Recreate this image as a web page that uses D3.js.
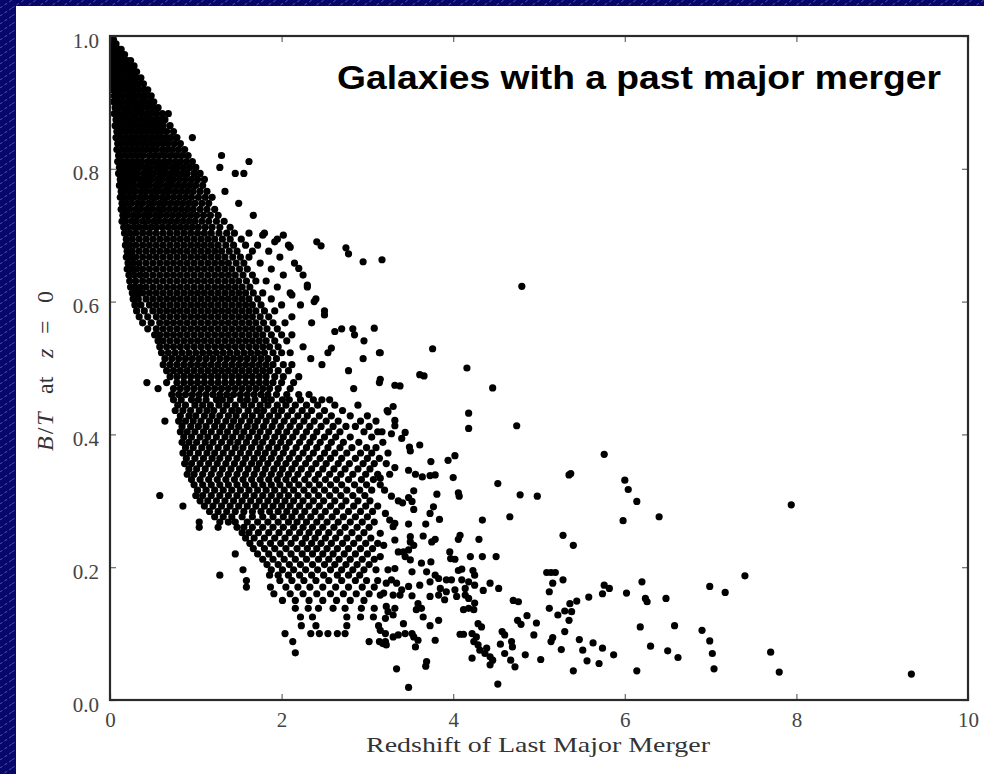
<!DOCTYPE html>
<html>
<head>
<meta charset="utf-8">
<script src="https://cdn.jsdelivr.net/npm/d3@7"></script>
<style>
    html, body { margin: 0; padding: 0; background: #08086a; }
    svg { display: block; }
</style>
</head>
<body>
<div id="chart"></div>
<script>
const xTicks = [0, 2, 4, 6, 8, 10];
const yTicks = [0.0, 0.2, 0.4, 0.6, 0.8, 1.0];
const titleText = "Galaxies with a past major merger";
const xLabel = "Redshift of Last Major Merger";

// dense upper-left core, read row by row: [B/T, [redshifts of last merger]]
const coreRows = [
    [0.995, [0.01, 0.04]],
    [0.988, [0.00, 0.03, 0.07]],
    [0.980, [0.01, 0.05, 0.10, 0.13]],
    [0.972, [0.00, 0.04, 0.08, 0.12, 0.17]],
    [0.963, [0.02, 0.06, 0.10, 0.15, 0.20, 0.24]],
    [0.955, [0.01, 0.05, 0.09, 0.14, 0.19, 0.23, 0.28]],
    [0.946, [0.03, 0.07, 0.12, 0.17, 0.22, 0.26, 0.31]],
    [0.937, [0.02, 0.06, 0.11, 0.16, 0.21, 0.25, 0.30, 0.36]],
    [0.928, [0.04, 0.09, 0.14, 0.19, 0.24, 0.29, 0.33, 0.39]],
    [0.919, [0.03, 0.07, 0.12, 0.18, 0.23, 0.28, 0.34, 0.40, 0.44]],
    [0.910, [0.05, 0.10, 0.15, 0.21, 0.26, 0.31, 0.37, 0.42, 0.48]],
    [0.901, [0.04, 0.08, 0.13, 0.19, 0.24, 0.29, 0.35, 0.40, 0.46, 0.51]],
    [0.892, [0.06, 0.11, 0.17, 0.22, 0.28, 0.33, 0.38, 0.44, 0.50, 0.56]],
    [0.883, [0.05, 0.09, 0.15, 0.20, 0.26, 0.31, 0.37, 0.43, 0.48, 0.54, 0.61, 0.68]],
    [0.874, [0.07, 0.12, 0.18, 0.24, 0.29, 0.35, 0.41, 0.47, 0.53, 0.58, 0.64]],
    [0.865, [0.06, 0.10, 0.16, 0.22, 0.27, 0.33, 0.39, 0.45, 0.51, 0.57, 0.62, 0.70]],
    [0.856, [0.08, 0.13, 0.19, 0.25, 0.31, 0.37, 0.43, 0.49, 0.55, 0.60, 0.66, 0.74]],
    [0.847, [0.07, 0.11, 0.17, 0.23, 0.29, 0.35, 0.41, 0.47, 0.53, 0.59, 0.65, 0.71, 0.78, 0.96]],
    [0.838, [0.09, 0.14, 0.20, 0.26, 0.32, 0.38, 0.44, 0.50, 0.56, 0.62, 0.68, 0.75, 0.82]],
    [0.829, [0.08, 0.12, 0.18, 0.24, 0.30, 0.36, 0.42, 0.48, 0.54, 0.61, 0.67, 0.73, 0.80, 0.87]],
    [0.820, [0.10, 0.15, 0.21, 0.27, 0.33, 0.39, 0.46, 0.52, 0.58, 0.64, 0.71, 0.77, 0.84, 0.91, 1.30]],
    [0.811, [0.09, 0.13, 0.19, 0.25, 0.31, 0.37, 0.44, 0.50, 0.56, 0.63, 0.69, 0.76, 0.82, 0.89, 0.96, 1.62]],
    [0.802, [0.11, 0.16, 0.22, 0.28, 0.34, 0.41, 0.47, 0.54, 0.60, 0.66, 0.73, 0.79, 0.86, 0.93, 1.00, 1.28]],
    [0.793, [0.10, 0.14, 0.20, 0.26, 0.32, 0.39, 0.45, 0.51, 0.58, 0.64, 0.71, 0.77, 0.84, 0.90, 0.98, 1.05, 1.46, 1.56]],
    [0.784, [0.12, 0.17, 0.23, 0.29, 0.36, 0.42, 0.48, 0.55, 0.61, 0.68, 0.74, 0.81, 0.88, 0.95, 1.02, 1.10]],
    [0.775, [0.11, 0.15, 0.21, 0.27, 0.34, 0.40, 0.46, 0.53, 0.59, 0.66, 0.72, 0.79, 0.86, 0.93, 1.00, 1.08]],
    [0.766, [0.13, 0.18, 0.24, 0.30, 0.37, 0.43, 0.50, 0.56, 0.63, 0.69, 0.76, 0.83, 0.90, 0.97, 1.05, 1.13, 1.34]],
    [0.757, [0.12, 0.16, 0.22, 0.28, 0.35, 0.41, 0.48, 0.54, 0.61, 0.67, 0.74, 0.81, 0.88, 0.95, 1.03, 1.11, 1.19]],
    [0.748, [0.14, 0.19, 0.25, 0.32, 0.38, 0.45, 0.51, 0.58, 0.64, 0.71, 0.78, 0.85, 0.92, 0.99, 1.07, 1.15, 1.50]],
    [0.739, [0.13, 0.17, 0.23, 0.30, 0.36, 0.43, 0.49, 0.56, 0.62, 0.69, 0.76, 0.83, 0.90, 0.97, 1.05, 1.13, 1.22]],
    [0.730, [0.15, 0.20, 0.27, 0.33, 0.40, 0.46, 0.53, 0.59, 0.66, 0.73, 0.80, 0.87, 0.94, 1.01, 1.09, 1.17, 1.26, 1.67]],
    [0.721, [0.14, 0.18, 0.25, 0.31, 0.38, 0.44, 0.51, 0.57, 0.64, 0.71, 0.78, 0.85, 0.92, 0.99, 1.07, 1.15, 1.24, 1.33]],
    [0.712, [0.16, 0.21, 0.28, 0.34, 0.41, 0.48, 0.54, 0.61, 0.68, 0.75, 0.82, 0.89, 0.96, 1.03, 1.11, 1.19, 1.28, 1.40]],
    [0.703, [0.17, 0.23, 0.30, 0.38, 0.46, 0.54, 0.62, 0.70, 0.78, 0.86, 0.94, 1.02, 1.10, 1.18, 1.27, 1.36, 1.45, 1.62, 1.80]],
    [0.694, [0.19, 0.26, 0.34, 0.42, 0.50, 0.58, 0.66, 0.74, 0.82, 0.90, 0.98, 1.06, 1.14, 1.22, 1.31, 1.40, 1.53, 1.95]],
    [0.685, [0.18, 0.23, 0.30, 0.38, 0.46, 0.54, 0.62, 0.70, 0.78, 0.86, 0.94, 1.02, 1.10, 1.18, 1.26, 1.35, 1.44, 1.58, 1.72, 2.08]],
    [0.676, [0.20, 0.26, 0.34, 0.42, 0.50, 0.58, 0.66, 0.74, 0.82, 0.90, 0.98, 1.06, 1.14, 1.22, 1.30, 1.39, 1.48, 1.66, 1.85]],
    [0.667, [0.19, 0.24, 0.30, 0.38, 0.46, 0.54, 0.62, 0.70, 0.78, 0.86, 0.94, 1.02, 1.10, 1.18, 1.26, 1.34, 1.43, 1.52, 1.62, 1.98]],
    [0.658, [0.21, 0.27, 0.34, 0.42, 0.50, 0.58, 0.66, 0.74, 0.82, 0.90, 0.98, 1.06, 1.14, 1.22, 1.30, 1.38, 1.47, 1.56, 1.75, 2.15]],
    [0.649, [0.20, 0.25, 0.31, 0.38, 0.46, 0.54, 0.62, 0.70, 0.78, 0.86, 0.94, 1.02, 1.10, 1.18, 1.26, 1.34, 1.42, 1.51, 1.60, 1.88]],
    [0.640, [0.22, 0.28, 0.35, 0.42, 0.50, 0.58, 0.66, 0.74, 0.82, 0.90, 0.98, 1.06, 1.14, 1.22, 1.30, 1.38, 1.46, 1.55, 1.66, 2.02, 2.25]],
    [0.631, [0.23, 0.30, 0.38, 0.46, 0.54, 0.62, 0.70, 0.78, 0.86, 0.94, 1.02, 1.10, 1.18, 1.26, 1.34, 1.42, 1.50, 1.59, 1.70, 1.82]],
    [0.622, [0.24, 0.29, 0.35, 0.42, 0.50, 0.58, 0.66, 0.74, 0.82, 0.90, 0.98, 1.06, 1.14, 1.22, 1.30, 1.38, 1.46, 1.54, 1.63, 1.95, 2.30]],
    [0.613, [0.26, 0.32, 0.38, 0.46, 0.54, 0.62, 0.70, 0.78, 0.86, 0.94, 1.02, 1.10, 1.18, 1.26, 1.34, 1.42, 1.50, 1.58, 1.67, 1.78, 2.10]],
    [0.604, [0.27, 0.33, 0.42, 0.50, 0.58, 0.66, 0.74, 0.82, 0.90, 0.98, 1.06, 1.14, 1.22, 1.30, 1.38, 1.46, 1.54, 1.62, 1.72, 1.88, 2.40]],
    [0.595, [0.29, 0.36, 0.46, 0.54, 0.62, 0.70, 0.78, 0.86, 0.94, 1.02, 1.10, 1.18, 1.26, 1.34, 1.42, 1.50, 1.58, 1.66, 1.76, 2.00, 2.22]],
    [0.586, [0.31, 0.40, 0.50, 0.58, 0.66, 0.74, 0.82, 0.90, 0.98, 1.06, 1.14, 1.22, 1.30, 1.38, 1.46, 1.54, 1.62, 1.70, 1.80, 1.92, 2.50]],
    [0.577, [0.34, 0.44, 0.54, 0.62, 0.70, 0.78, 0.86, 0.94, 1.02, 1.10, 1.18, 1.26, 1.34, 1.42, 1.50, 1.58, 1.66, 1.75, 1.85, 2.12]],
    [0.568, [0.38, 0.48, 0.58, 0.66, 0.74, 0.82, 0.90, 0.98, 1.06, 1.14, 1.22, 1.30, 1.38, 1.46, 1.54, 1.62, 1.70, 1.79, 1.90, 2.04, 2.35]],
    [0.559, [0.44, 0.54, 0.62, 0.70, 0.78, 0.86, 0.94, 1.02, 1.10, 1.18, 1.26, 1.34, 1.42, 1.50, 1.58, 1.66, 1.74, 1.83, 1.95, 2.70, 2.83]],
    [0.550, [0.52, 0.58, 0.66, 0.74, 0.82, 0.90, 0.98, 1.06, 1.14, 1.22, 1.30, 1.38, 1.46, 1.54, 1.62, 1.70, 1.78, 1.88, 2.00, 2.12]],
    [0.541, [0.56, 0.62, 0.70, 0.78, 0.86, 0.94, 1.02, 1.10, 1.18, 1.26, 1.34, 1.42, 1.50, 1.58, 1.66, 1.74, 1.82, 1.92, 2.06, 2.96]],
    [0.532, [0.58, 0.66, 0.74, 0.82, 0.90, 0.98, 1.06, 1.14, 1.22, 1.30, 1.38, 1.46, 1.54, 1.62, 1.70, 1.78, 1.86, 1.96, 2.25]],
    [0.523, [0.60, 0.68, 0.76, 0.84, 0.92, 1.00, 1.08, 1.16, 1.24, 1.32, 1.40, 1.48, 1.56, 1.64, 1.72, 1.80, 1.90, 2.00, 2.10, 2.54, 3.14]],
    [0.514, [0.64, 0.72, 0.80, 0.88, 0.96, 1.04, 1.12, 1.20, 1.28, 1.36, 1.44, 1.52, 1.60, 1.68, 1.76, 1.84, 1.94, 2.34, 2.95]],
    [0.505, [0.62, 0.70, 0.78, 0.86, 0.94, 1.02, 1.10, 1.18, 1.26, 1.34, 1.42, 1.50, 1.58, 1.66, 1.74, 1.82, 1.90, 2.02, 2.12, 2.47]],
    [0.496, [0.66, 0.74, 0.82, 0.90, 0.98, 1.06, 1.14, 1.22, 1.30, 1.38, 1.46, 1.54, 1.62, 1.70, 1.78, 1.86, 1.96, 2.08, 2.78]],
    [0.487, [0.70, 0.78, 0.86, 0.94, 1.02, 1.10, 1.18, 1.26, 1.34, 1.42, 1.50, 1.58, 1.66, 1.74, 1.82, 1.92, 2.02, 2.20]],
    [0.478, [0.43, 0.66, 0.78, 0.86, 0.94, 1.02, 1.10, 1.18, 1.26, 1.34, 1.42, 1.50, 1.58, 1.66, 1.74, 1.82, 1.90, 2.00, 2.14, 3.14]],
    [0.469, [0.56, 0.74, 0.82, 0.90, 0.98, 1.06, 1.14, 1.22, 1.30, 1.38, 1.46, 1.54, 1.62, 1.70, 1.78, 1.86, 1.96, 2.10, 2.84]],
    [0.460, [0.72, 0.80, 0.88, 0.96, 1.04, 1.12, 1.20, 1.28, 1.36, 1.44, 1.52, 1.60, 1.68, 1.76, 1.84, 1.94, 2.06, 2.20, 2.32]]
];

// middle band, looser: [B/T, [redshifts]]
const midRows = [
    [0.452, [0.74, 0.83, 0.95, 1.03, 1.12, 1.24, 1.31, 1.40, 1.52, 1.60, 1.69, 1.80, 1.88, 2.01, 2.09, 2.22, 2.37, 2.47, 2.56]],
    [0.444, [0.79, 0.88, 0.99, 1.08, 1.17, 1.27, 1.36, 1.46, 1.56, 1.65, 1.75, 1.84, 1.95, 2.05, 2.16, 2.29, 2.42, 2.62, 2.89]],
    [0.436, [0.76, 0.85, 0.94, 1.04, 1.13, 1.21, 1.32, 1.42, 1.50, 1.61, 1.71, 1.79, 1.91, 2.00, 2.12, 2.24, 2.35, 2.50, 2.71, 3.23]],
    [0.428, [0.82, 0.92, 1.00, 1.10, 1.19, 1.28, 1.38, 1.47, 1.57, 1.66, 1.76, 1.86, 1.96, 2.07, 2.19, 2.30, 2.44, 2.58, 2.80, 3.00]],
    [0.420, [0.64, 0.80, 0.88, 0.97, 1.06, 1.16, 1.25, 1.35, 1.44, 1.53, 1.63, 1.72, 1.82, 1.92, 2.03, 2.14, 2.26, 2.38, 2.52, 2.66, 2.92, 3.10]],
    [0.412, [0.84, 0.94, 1.03, 1.12, 1.22, 1.31, 1.41, 1.50, 1.60, 1.69, 1.79, 1.89, 1.99, 2.10, 2.21, 2.33, 2.46, 2.60, 2.75, 2.86, 3.02]],
    [0.404, [0.82, 0.90, 0.99, 1.09, 1.18, 1.28, 1.37, 1.47, 1.56, 1.66, 1.75, 1.85, 1.96, 2.06, 2.17, 2.29, 2.41, 2.55, 2.68, 2.96, 3.12]],
    [0.396, [0.86, 0.95, 1.05, 1.14, 1.24, 1.34, 1.43, 1.53, 1.62, 1.72, 1.82, 1.92, 2.02, 2.13, 2.25, 2.37, 2.50, 2.63, 2.80, 3.05]],
    [0.388, [0.84, 0.92, 1.01, 1.11, 1.20, 1.30, 1.40, 1.49, 1.59, 1.69, 1.78, 1.89, 1.99, 2.09, 2.21, 2.33, 2.45, 2.58, 2.72, 2.90, 3.18]],
    [0.380, [0.88, 0.97, 1.07, 1.16, 1.26, 1.36, 1.46, 1.55, 1.65, 1.75, 1.85, 1.95, 2.05, 2.17, 2.29, 2.41, 2.54, 2.68, 2.82, 2.99, 3.10]],
    [0.372, [0.85, 0.93, 1.03, 1.13, 1.22, 1.32, 1.42, 1.52, 1.62, 1.72, 1.81, 1.91, 2.02, 2.13, 2.25, 2.37, 2.50, 2.62, 2.76, 2.92, 3.05, 3.24]],
    [0.364, [0.89, 0.99, 1.09, 1.19, 1.28, 1.38, 1.48, 1.58, 1.68, 1.78, 1.88, 1.98, 2.09, 2.20, 2.32, 2.45, 2.57, 2.70, 2.86, 3.00, 3.14]],
    [0.356, [0.87, 0.95, 1.05, 1.15, 1.25, 1.35, 1.45, 1.55, 1.65, 1.74, 1.84, 1.95, 2.05, 2.16, 2.28, 2.40, 2.52, 2.66, 2.79, 2.95, 3.08, 3.22]],
    [0.348, [0.92, 1.01, 1.11, 1.21, 1.31, 1.41, 1.51, 1.61, 1.71, 1.81, 1.91, 2.01, 2.12, 2.23, 2.35, 2.48, 2.61, 2.74, 2.89, 3.03]],
    [0.340, [0.90, 0.98, 1.08, 1.18, 1.28, 1.38, 1.48, 1.58, 1.68, 1.78, 1.88, 1.98, 2.08, 2.19, 2.31, 2.43, 2.56, 2.69, 2.83, 2.98, 3.12, 3.26]],
    [0.332, [0.95, 1.05, 1.15, 1.25, 1.35, 1.45, 1.55, 1.65, 1.75, 1.85, 1.95, 2.05, 2.15, 2.27, 2.39, 2.51, 2.64, 2.78, 2.93, 3.07]],
    [0.324, [0.98, 1.08, 1.18, 1.28, 1.38, 1.48, 1.58, 1.68, 1.78, 1.88, 1.98, 2.09, 2.20, 2.32, 2.44, 2.57, 2.70, 2.85, 2.99]],
    [0.316, [1.02, 1.12, 1.22, 1.32, 1.42, 1.52, 1.62, 1.72, 1.82, 1.92, 2.03, 2.14, 2.26, 2.38, 2.50, 2.63, 2.76, 2.91, 3.05, 3.20]],
    [0.308, [0.58, 1.00, 1.08, 1.18, 1.28, 1.38, 1.48, 1.58, 1.68, 1.78, 1.88, 1.98, 2.08, 2.19, 2.31, 2.43, 2.56, 2.69, 2.83, 2.97]],
    [0.300, [1.05, 1.14, 1.24, 1.34, 1.44, 1.54, 1.64, 1.74, 1.84, 1.94, 2.04, 2.14, 2.25, 2.37, 2.49, 2.62, 2.75, 2.89, 3.03]],
    [0.292, [0.85, 1.10, 1.20, 1.30, 1.40, 1.50, 1.60, 1.70, 1.80, 1.90, 2.00, 2.10, 2.21, 2.32, 2.44, 2.57, 2.70, 2.84, 2.98, 3.12]],
    [0.284, [1.16, 1.26, 1.36, 1.46, 1.56, 1.66, 1.76, 1.86, 1.96, 2.06, 2.16, 2.27, 2.39, 2.51, 2.64, 2.78, 2.92, 3.06]],
    [0.276, [1.22, 1.32, 1.42, 1.54, 1.66, 1.78, 1.90, 2.02, 2.12, 2.23, 2.34, 2.46, 2.59, 2.72, 2.86, 3.00]],
    [0.268, [1.04, 1.28, 1.38, 1.46, 1.60, 1.72, 1.84, 1.96, 2.08, 2.18, 2.29, 2.41, 2.53, 2.66, 2.80, 2.94, 3.08]],
    [0.260, [1.04, 1.26, 1.48, 1.56, 1.66, 1.78, 1.90, 2.02, 2.14, 2.25, 2.36, 2.48, 2.61, 2.74, 2.88, 3.02]],
    [0.252, [1.54, 1.62, 1.73, 1.85, 1.97, 2.09, 2.21, 2.32, 2.43, 2.55, 2.68, 2.82, 2.96]],
    [0.244, [1.58, 1.68, 1.80, 1.92, 2.04, 2.16, 2.28, 2.39, 2.51, 2.63, 2.76, 2.90, 3.04]],
    [0.236, [1.63, 1.75, 1.87, 1.99, 2.11, 2.24, 2.35, 2.46, 2.58, 2.71, 2.84, 2.98, 3.12]],
    [0.228, [1.67, 1.80, 1.92, 2.05, 2.18, 2.30, 2.41, 2.53, 2.65, 2.78, 2.92, 3.06]],
    [0.220, [1.46, 1.72, 1.85, 1.98, 2.11, 2.24, 2.36, 2.48, 2.60, 2.73, 2.86, 3.00]],
    [0.212, [1.78, 1.90, 2.03, 2.16, 2.29, 2.43, 2.55, 2.67, 2.80, 2.94, 3.08]],
    [0.204, [1.83, 1.96, 2.09, 2.22, 2.36, 2.50, 2.62, 2.75, 2.88, 3.02]],
    [0.196, [1.55, 1.88, 2.01, 2.14, 2.28, 2.42, 2.57, 2.70, 2.83, 2.96, 3.10]],
    [0.188, [1.28, 1.86, 1.96, 2.08, 2.21, 2.35, 2.49, 2.65, 2.78, 2.91]],
    [0.180, [1.59, 1.98, 2.12, 2.26, 2.40, 2.55, 2.70, 2.86, 2.99, 3.12]],
    [0.170, [1.59, 1.87, 2.05, 2.19, 2.33, 2.48, 2.63, 2.78, 2.94, 3.08]],
    [0.160, [1.91, 2.10, 2.25, 2.41, 2.57, 2.72, 2.87, 3.02]],
    [0.150, [2.01, 2.16, 2.32, 2.48, 2.64, 2.80, 2.96]],
    [0.138, [2.16, 2.31, 2.43, 2.60, 2.74, 2.93, 3.08]],
    [0.125, [2.22, 2.36, 2.76, 2.92, 3.07]],
    [0.112, [2.23, 2.40, 2.76, 3.13]],
    [0.100, [2.04, 2.34, 2.44, 2.54, 2.65, 2.74]],
    [0.088, [2.13, 3.02, 3.14, 3.21]],
    [0.071, [2.16]]
];

// scattered points between the core and the tail: [redshift, B/T]
const strayPoints = [
    [1.78, 0.700], [1.92, 0.690], [2.02, 0.700], [2.10, 0.682], [2.41, 0.690], [2.46, 0.684],
    [2.75, 0.681], [2.78, 0.672], [2.95, 0.660], [2.20, 0.650], [2.30, 0.625], [2.12, 0.610],
    [2.38, 0.600], [2.50, 0.580], [2.62, 0.555], [2.85, 0.550], [2.58, 0.530], [3.08, 0.560]
];

// the sparse tail at high redshift: [redshift, B/T]
const tailPoints = [
    [3.17, 0.663], [4.80, 0.623], [3.15, 0.523], [3.76, 0.529], [3.15, 0.483], [4.16, 0.500],
    [3.61, 0.490], [3.66, 0.488], [3.32, 0.474], [3.38, 0.473], [4.46, 0.470], [3.30, 0.442],
    [3.24, 0.434], [4.18, 0.432], [3.32, 0.421], [3.32, 0.413], [3.17, 0.404], [3.28, 0.401],
    [3.44, 0.403], [3.40, 0.394], [4.18, 0.409], [4.74, 0.413], [3.49, 0.381], [3.50, 0.375],
    [3.61, 0.384], [3.74, 0.359], [3.94, 0.361], [4.02, 0.368], [3.32, 0.350], [3.48, 0.346],
    [3.56, 0.340], [3.64, 0.336], [3.73, 0.338], [3.79, 0.339], [4.00, 0.335], [4.52, 0.326],
    [5.37, 0.341], [5.35, 0.339], [5.76, 0.370], [6.00, 0.331], [6.04, 0.317], [3.15, 0.334],
    [6.14, 0.299], [5.98, 0.270], [6.40, 0.276], [4.78, 0.309], [4.98, 0.307], [4.66, 0.276],
    [4.34, 0.271], [5.28, 0.248], [5.40, 0.233], [4.30, 0.242], [4.20, 0.216], [4.34, 0.216],
    [4.50, 0.216], [5.09, 0.192], [5.14, 0.192], [5.19, 0.192], [5.28, 0.181], [5.16, 0.176],
    [5.12, 0.163], [6.20, 0.178], [5.76, 0.173], [5.82, 0.168], [5.74, 0.160], [5.58, 0.155],
    [6.02, 0.161], [6.24, 0.153], [6.26, 0.148], [6.48, 0.153], [5.44, 0.149], [5.36, 0.145],
    [4.70, 0.150], [4.76, 0.148], [5.12, 0.138], [5.22, 0.128], [5.30, 0.134], [5.38, 0.133],
    [4.86, 0.127], [5.35, 0.120], [4.75, 0.120], [4.79, 0.114], [4.97, 0.116], [6.18, 0.110],
    [6.58, 0.112], [5.30, 0.103], [4.94, 0.098], [5.16, 0.094], [5.14, 0.088], [5.47, 0.091],
    [5.63, 0.086], [5.26, 0.076], [5.51, 0.075], [5.74, 0.078], [5.87, 0.068], [6.30, 0.081],
    [6.50, 0.074], [6.62, 0.064], [4.84, 0.068], [5.02, 0.061], [5.56, 0.059], [5.70, 0.055],
    [5.40, 0.044], [6.14, 0.044], [4.52, 0.024], [3.48, 0.019], [3.34, 0.047], [3.69, 0.058],
    [3.68, 0.051], [4.22, 0.063],
    [3.15, 0.324], [3.28, 0.307], [3.36, 0.300], [3.41, 0.297], [3.48, 0.305], [3.54, 0.315],
    [3.52, 0.299], [3.54, 0.287], [3.81, 0.310], [3.77, 0.291], [3.73, 0.281], [4.06, 0.312],
    [4.07, 0.307], [3.84, 0.272], [3.68, 0.265], [3.48, 0.265], [3.21, 0.281], [3.26, 0.271],
    [3.32, 0.266], [3.30, 0.261], [3.15, 0.251], [3.19, 0.233], [3.15, 0.216], [3.32, 0.241],
    [3.50, 0.246], [3.50, 0.238], [3.54, 0.233], [3.65, 0.247], [3.75, 0.238], [3.79, 0.242],
    [3.36, 0.223], [3.42, 0.223], [3.48, 0.226], [3.44, 0.216], [3.50, 0.211], [3.63, 0.206],
    [3.74, 0.208], [3.96, 0.223], [3.97, 0.213], [4.02, 0.212], [4.08, 0.248], [4.06, 0.242],
    [3.24, 0.196], [3.32, 0.198], [3.52, 0.193], [3.69, 0.193], [3.79, 0.188], [3.83, 0.183],
    [3.92, 0.181], [3.98, 0.181], [4.06, 0.195], [4.10, 0.197], [4.10, 0.181], [4.23, 0.195],
    [4.25, 0.188], [4.18, 0.178], [3.22, 0.176], [3.28, 0.181], [3.34, 0.176], [3.40, 0.166],
    [3.48, 0.171], [3.61, 0.173], [3.73, 0.178], [3.85, 0.168], [3.92, 0.163], [4.02, 0.166],
    [4.14, 0.168], [4.25, 0.173], [4.35, 0.165], [4.43, 0.176], [4.53, 0.168], [3.15, 0.158],
    [3.19, 0.161], [3.30, 0.158], [3.38, 0.158], [3.52, 0.157], [3.73, 0.156], [3.83, 0.158],
    [3.90, 0.151], [4.04, 0.156], [4.14, 0.158], [4.18, 0.153], [4.25, 0.146], [4.12, 0.136],
    [4.18, 0.138], [4.24, 0.136], [3.22, 0.141], [3.24, 0.133], [3.32, 0.138], [3.59, 0.145],
    [3.63, 0.138], [3.57, 0.136], [3.21, 0.123], [3.30, 0.128], [3.42, 0.115], [3.65, 0.125],
    [3.83, 0.120], [3.73, 0.112], [4.29, 0.115], [4.33, 0.110], [3.15, 0.105], [3.21, 0.100],
    [3.30, 0.095], [3.36, 0.098], [3.44, 0.100], [3.52, 0.100], [3.54, 0.095], [3.59, 0.090],
    [3.79, 0.090], [4.08, 0.099], [4.12, 0.099], [4.22, 0.100], [4.27, 0.095], [4.24, 0.088],
    [4.29, 0.083], [4.31, 0.075], [4.39, 0.078], [4.37, 0.070], [4.43, 0.065], [4.46, 0.060],
    [4.43, 0.053], [4.57, 0.103], [4.60, 0.098], [4.55, 0.084], [4.60, 0.070], [4.68, 0.088],
    [4.69, 0.080], [4.67, 0.060], [4.72, 0.050], [3.18, 0.085], [3.22, 0.083], [3.56, 0.080],
    [7.94, 0.294], [7.40, 0.187], [6.99, 0.171], [7.17, 0.162], [6.90, 0.105], [6.99, 0.089],
    [7.02, 0.070], [7.04, 0.047], [7.70, 0.072], [7.80, 0.042], [9.34, 0.039]
];

const width = 984;
const height = 774;
const plot = {left: 110, right: 968, top: 36, bottom: 700};
const serif = "'Liberation Serif', 'Times New Roman', serif";

// gather all galaxies as [redshift, B/T]
let galaxies = [];
coreRows.concat(midRows).forEach(function (row) {
    row[1].forEach(function (z) {
        galaxies.push([z, row[0]]);
    });
});
galaxies = galaxies.concat(strayPoints, tailPoints);

let x = d3.scaleLinear().domain([0, 10]).range([plot.left, plot.right]);
let y = d3.scaleLinear().domain([0, 1]).range([plot.bottom, plot.top]);

let svg = d3.select("#chart")
    .append("svg")
    .attr("width", width)
    .attr("height", height);

let defs = svg.append("defs");

// slide background: navy with faint diagonal dashes
let hatch = defs.append("pattern")
    .attr("id", "hatch")
    .attr("patternUnits", "userSpaceOnUse")
    .attr("width", 12)
    .attr("height", 8);
hatch.append("rect").attr("width", 12).attr("height", 8).attr("fill", "#07076a");
hatch.append("path")
    .attr("d", "M0,8 L12,0")
    .attr("stroke", "#5666cf")
    .attr("stroke-width", 0.8)
    .attr("stroke-dasharray", "3,2.5");

defs.append("clipPath")
    .attr("id", "plotClip")
    .append("rect")
    .attr("x", plot.left)
    .attr("y", plot.top)
    .attr("width", plot.right - plot.left)
    .attr("height", plot.bottom - plot.top);

svg.append("rect")
    .attr("width", width)
    .attr("height", height)
    .attr("fill", "url(#hatch)");

svg.append("rect")
    .attr("x", 16)
    .attr("y", 6)
    .attr("width", width - 16)
    .attr("height", height - 6)
    .attr("fill", "#ffffff");

// the scatter
svg.append("g")
    .attr("class", "points")
    .attr("clip-path", "url(#plotClip)")
    .selectAll("circle")
    .data(galaxies)
    .enter()
    .append("circle")
    .attr("cx", function (d) { return x(d[0]); })
    .attr("cy", function (d) { return y(d[1]); })
    .attr("r", 3.6)
    .attr("fill", "#000000");

// ticks on all four sides, pointing inward
function styleAxis(g) {
    g.select(".domain").remove();
    g.selectAll(".tick line").attr("stroke", "#666666").attr("stroke-width", 1.2);
    g.selectAll(".tick text")
        .attr("fill", "#444444")
        .style("font-family", serif)
        .style("font-size", "21px");
}

svg.append("g")
    .attr("transform", "translate(0," + plot.bottom + ")")
    .call(d3.axisBottom(x).tickValues(xTicks).tickSize(-6).tickPadding(12).tickFormat(d3.format("d")))
    .call(styleAxis);

svg.append("g")
    .attr("transform", "translate(0," + plot.top + ")")
    .call(d3.axisTop(x).tickValues(xTicks).tickSize(-6).tickFormat(""))
    .call(styleAxis);

svg.append("g")
    .attr("transform", "translate(" + plot.left + ",0)")
    .call(d3.axisLeft(y).tickValues(yTicks).tickSize(-6).tickPadding(11).tickFormat(d3.format(".1f")))
    .call(styleAxis)
    .selectAll(".tick text")
    .attr("dy", "0.53em");

svg.append("g")
    .attr("transform", "translate(" + plot.right + ",0)")
    .call(d3.axisRight(y).tickValues(yTicks).tickSize(-6).tickFormat(""))
    .call(styleAxis);

// frame
svg.append("rect")
    .attr("x", plot.left)
    .attr("y", plot.top)
    .attr("width", plot.right - plot.left)
    .attr("height", plot.bottom - plot.top)
    .attr("fill", "none")
    .attr("stroke", "#2a2a2a")
    .attr("stroke-width", 2.2);

// x axis title
svg.append("text")
    .attr("x", (plot.left + plot.right) / 2 - 1)
    .attr("y", 752)
    .attr("text-anchor", "middle")
    .attr("textLength", 344)
    .attr("lengthAdjust", "spacingAndGlyphs")
    .style("font-family", serif)
    .style("font-size", "22px")
    .attr("fill", "#333333")
    .text(xLabel);

// y axis title: B/T at z = 0, pieces placed along the rotated baseline
let yTitle = svg.append("text")
    .attr("transform", "translate(53,451) rotate(-90)")
    .style("font-family", serif)
    .style("font-size", "24px")
    .attr("fill", "#333333");
yTitle.append("tspan").attr("x", 0).style("font-style", "italic").text("B");
yTitle.append("tspan").attr("dx", 2).text("/");
yTitle.append("tspan").attr("dx", 2).style("font-style", "italic").text("T");
yTitle.append("tspan").attr("x", 57).text("at");
yTitle.append("tspan").attr("x", 93).style("font-style", "italic").text("z");
yTitle.append("tspan").attr("x", 117).text("=");
yTitle.append("tspan").attr("x", 148).text("0");

// headline in the upper right of the panel
svg.append("text")
    .attr("x", 337)
    .attr("y", 89)
    .attr("textLength", 604)
    .attr("lengthAdjust", "spacingAndGlyphs")
    .style("font-family", "'Liberation Sans', Arial, sans-serif")
    .style("font-weight", "bold")
    .style("font-size", "33px")
    .attr("fill", "#000000")
    .text(titleText);
</script>
</body>
</html>
